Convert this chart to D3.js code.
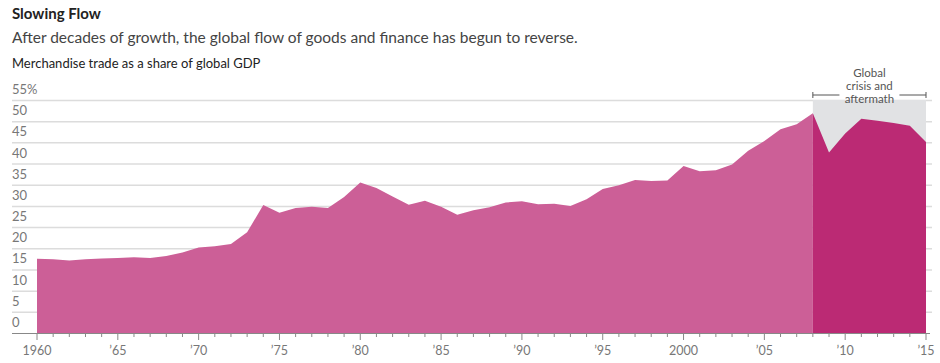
<!DOCTYPE html>
<html><head><meta charset="utf-8">
<script src="https://cdn.jsdelivr.net/npm/d3@7"></script>
<style>
body{margin:0;background:#fff;}
svg{display:block;font-family:Lato,"Open Sans",sans-serif;}
</style></head><body>
<svg id="c" width="940" height="363"></svg>
<script>
const years = d3.range(1960, 2016);
const values = [
 17.5,17.4,17.1,17.4,17.6,17.7,17.9,17.7,18.2,19.0,
 20.2,20.5,21.0,23.8,30.2,28.4,29.5,29.8,29.5,32.1,
 35.5,34.2,32.2,30.3,31.2,29.8,27.9,29.0,29.7,30.8,
 31.1,30.4,30.5,30.0,31.6,34.0,34.9,36.1,35.9,36.0,
 39.4,38.2,38.4,39.8,43.0,45.3,48.1,49.3,51.9,42.6,
 47.1,50.6,50.1,49.6,48.9,45.1
];
const yTicks = [0,5,10,15,20,25,30,35,40,45,50,55];
const xTicks = [1960,1965,1970,1975,1980,1985,1990,1995,2000,2005,2010,2015];
const xTickLabels = ["1960","’65","’70","’75","’80","’85","’90","’95","2000","’05","’10","’15"];
const crisisStart = 2008, crisisEnd = 2015;
const annotationLines = ["Global","crisis and","aftermath"];

const data = years.map((y,i)=>({year:y, v:values[i]}));
const svg = d3.select("#c");
const x = d3.scaleLinear().domain([1960,2015]).range([37,926]);
const y = d3.scaleLinear().domain([0,55]).range([333,100]);

// titles
svg.append("text").attr("x",12).attr("y",19).attr("font-size",15).attr("font-weight",700).attr("fill","#222").text("Slowing Flow");
svg.append("text").attr("x",12).attr("y",43).attr("font-size",15.5).attr("fill","#444").text("After decades of growth, the global flow of goods and finance has begun to reverse.");
svg.append("text").attr("x",12).attr("y",68).attr("font-size",13).attr("fill","#222").text("Merchandise trade as a share of global GDP");

// gridlines
svg.append("g").selectAll("line").data(yTicks.filter(d=>d>0)).join("line")
  .attr("x1",12).attr("x2",932).attr("y1",d=>y(d)+0.5).attr("y2",d=>y(d)+0.5)
  .attr("stroke","#dcdcdc").attr("stroke-width",1.5);
svg.append("g").selectAll("text").data(yTicks).join("text")
  .attr("x",12).attr("y",d=>y(d)-6).attr("font-size",13).attr("fill","#777")
  .text(d=>d===55?"55%":d);

// crisis background
svg.append("rect").attr("x",x(crisisStart)).attr("y",y(55))
  .attr("width",x(crisisEnd)-x(crisisStart)).attr("height",y(0)-y(55)).attr("fill","#e1e2e4");

const area = d3.area().x(d=>x(d.year)).y0(y(0)).y1(d=>y(d.v));
svg.append("path").datum(data.filter(d=>d.year<=crisisStart)).attr("d",area).attr("fill","#cc5f97");
svg.append("path").datum(data.filter(d=>d.year>=crisisStart)).attr("d",area).attr("fill","#bb2a74");

// x axis
svg.append("line").attr("x1",12).attr("x2",930).attr("y1",333.5).attr("y2",333.5).attr("stroke","#888").attr("stroke-width",1);
svg.append("g").selectAll("line").data(years).join("line")
  .attr("x1",d=>x(d)).attr("x2",d=>x(d)).attr("y1",334).attr("y2",d=>d%5===0?340:337)
  .attr("stroke","#888").attr("stroke-width",1);
svg.append("g").selectAll("text").data(xTicks).join("text")
  .attr("x",d=>x(d)).attr("y",355).attr("text-anchor","middle").attr("font-size",12.5).attr("fill","#777")
  .text((d,i)=>xTickLabels[i]);

// annotation
const ax = (x(crisisStart)+x(crisisEnd))/2;
const by = 95;
const g = svg.append("g").attr("stroke","#555").attr("stroke-width",1);
g.append("line").attr("x1",x(crisisStart)).attr("x2",ax-30).attr("y1",by).attr("y2",by);
g.append("line").attr("x1",ax+30).attr("x2",x(crisisEnd)).attr("y1",by).attr("y2",by);
g.append("line").attr("x1",x(crisisStart)).attr("x2",x(crisisStart)).attr("y1",by-3).attr("y2",by+3);
g.append("line").attr("x1",x(crisisEnd)).attr("x2",x(crisisEnd)).attr("y1",by-3).attr("y2",by+3);
svg.append("g").selectAll("text").data(annotationLines).join("text")
  .attr("x",ax).attr("y",(d,i)=>77+i*13).attr("text-anchor","middle").attr("font-size",11.5).attr("fill","#555")
  .text(d=>d);
</script></body></html>
